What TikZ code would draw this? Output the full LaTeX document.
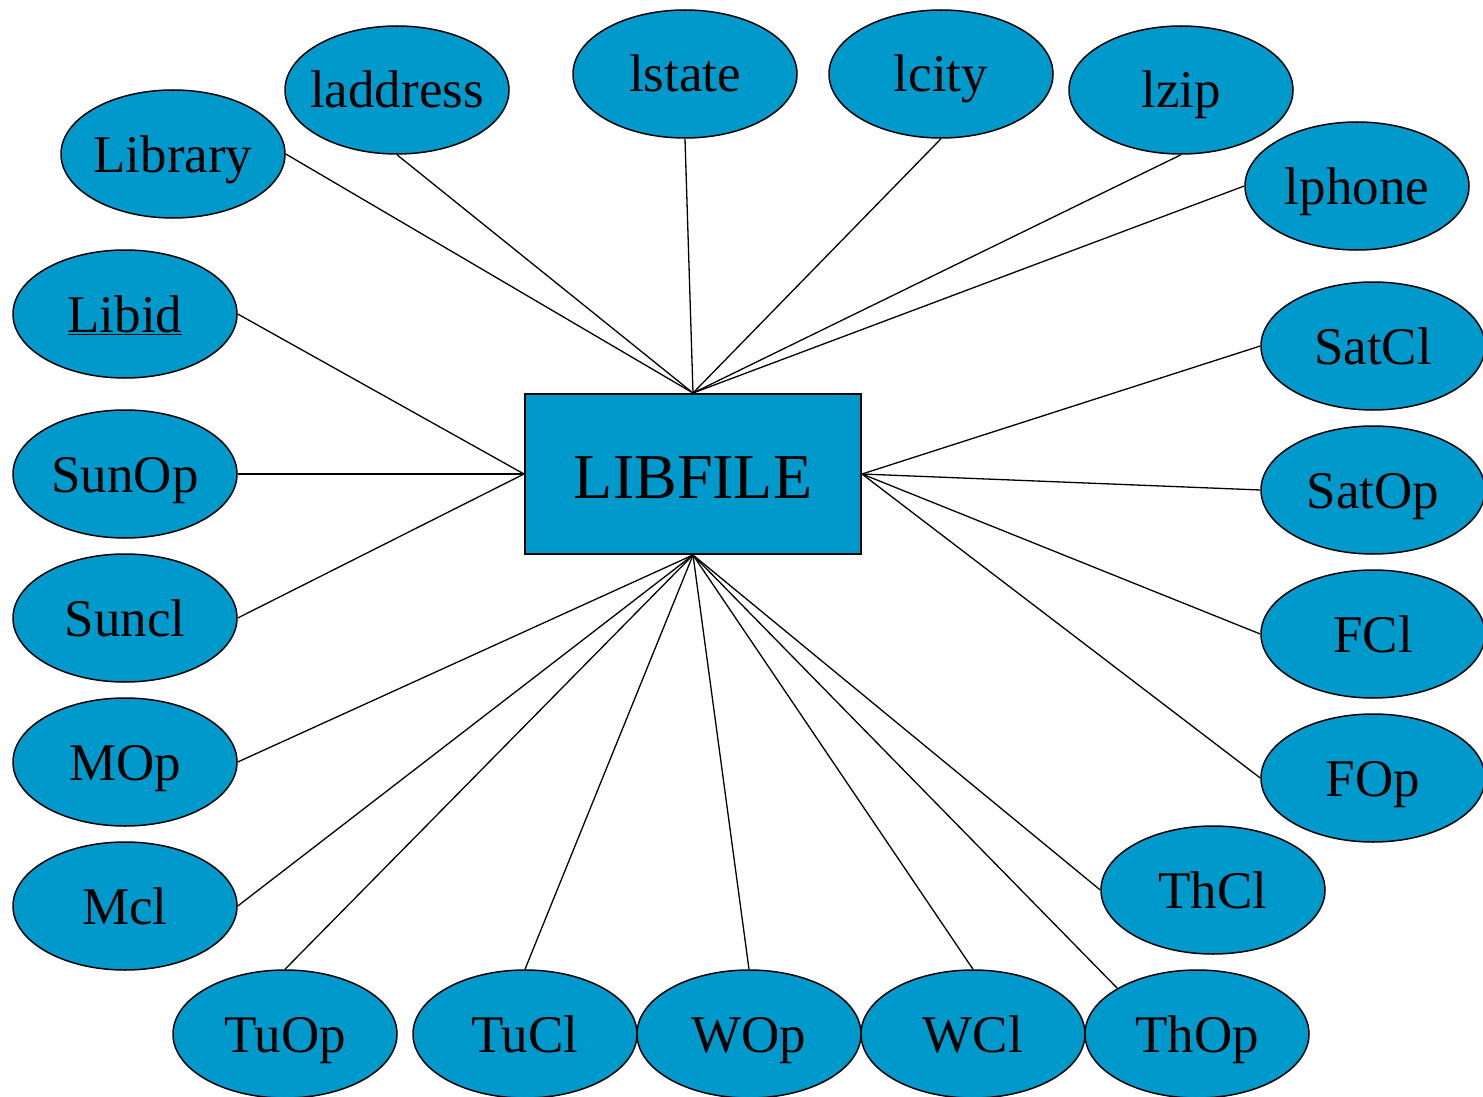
\documentclass[tikz,border=0pt]{standalone}
\usepackage{fontspec}
\setmainfont{Liberation Serif}
\usetikzlibrary{shapes.geometric}
\definecolor{erblue}{HTML}{0099CC}
\tikzset{
  attr/.style={ellipse, draw=black, line width=1.5pt, fill=erblue,
    minimum width=224pt, minimum height=128pt, inner sep=0pt,
    text height=36pt, text depth=0pt,
    font=\fontsize{53}{60}\selectfont},
  entity/.style={rectangle, draw=black, line width=2pt, fill=erblue,
    minimum width=336pt, minimum height=160pt, inner sep=0pt,
    text height=48pt, text depth=0pt,
    font=\fontsize{64}{72}\selectfont},
  conn/.style={draw=black, line width=1.3pt}
}
\newcommand{\zw}[1]{\makebox[0pt]{#1}}
\begin{document}
\begin{tikzpicture}[x=1pt,y=-1pt]
\useasboundingbox (0,0) rectangle (1483,1097);
% entity
\node[entity] (E) at (693,474) {LIBFILE};
% top
\node[attr] (Library) at (173,154) {\zw{Library}};
\node[attr] (laddress) at (397,90) {\zw{laddress}};
\node[attr] (lstate) at (685,74) {\zw{lstate}};
\node[attr] (lcity) at (941,74) {\zw{lcity}};
\node[attr] (lzip) at (1181,90) {\zw{lzip}};
\node[attr] (lphone) at (1357,186) {\zw{lphone}};
% left
\node[attr] (Libid) at (125,314) {\zw{\underline{Libid}}};
\node[attr] (SunOp) at (125,474) {\zw{SunOp}};
\node[attr] (Suncl) at (125,618) {\zw{Suncl}};
\node[attr] (MOp) at (125,762) {\zw{MOp}};
\node[attr] (Mcl) at (125,906) {\zw{Mcl}};
% bottom
\node[attr] (TuOp) at (285,1034) {\zw{TuOp}};
\node[attr] (TuCl) at (525,1034) {\zw{TuCl}};
\node[attr] (WOp) at (749,1034) {\zw{WOp}};
\node[attr] (WCl) at (973,1034) {\zw{WCl}};
\node[attr] (ThOp) at (1197,1034) {\zw{ThOp}};
\node[attr] (ThCl) at (1213,890) {\zw{ThCl}};
% right
\node[attr] (SatCl) at (1373,346) {\zw{SatCl}};
\node[attr] (SatOp) at (1373,490) {\zw{SatOp}};
\node[attr] (FCl) at (1373,634) {\zw{FCl}};
\node[attr] (FOp) at (1373,778) {\zw{FOp}};
% connectors
\begin{scope}[on background layer/.style={}]
\draw[conn] (Library.east) -- (E.north);
\draw[conn] (laddress.south) -- (E.north);
\draw[conn] (lstate.south) -- (E.north);
\draw[conn] (lcity.south) -- (E.north);
\draw[conn] (lzip.south) -- (E.north);
\draw[conn] (lphone.west) -- (E.north);
\draw[conn] (Libid.east) -- (E.west);
\draw[conn] (SunOp.east) -- (E.west);
\draw[conn] (Suncl.east) -- (E.west);
\draw[conn] (MOp.east) -- (E.south);
\draw[conn] (Mcl.east) -- (E.south);
\draw[conn] (TuOp.north) -- (E.south);
\draw[conn] (TuCl.north) -- (E.south);
\draw[conn] (WOp.north) -- (E.south);
\draw[conn] (WCl.north) -- (E.south);
\draw[conn] (ThOp.north west) -- (E.south);
\draw[conn] (ThCl.west) -- (E.south);
\draw[conn] (SatCl.west) -- (E.east);
\draw[conn] (SatOp.west) -- (E.east);
\draw[conn] (FCl.west) -- (E.east);
\draw[conn] (FOp.west) -- (E.east);
\end{scope}
\end{tikzpicture}
\end{document}
